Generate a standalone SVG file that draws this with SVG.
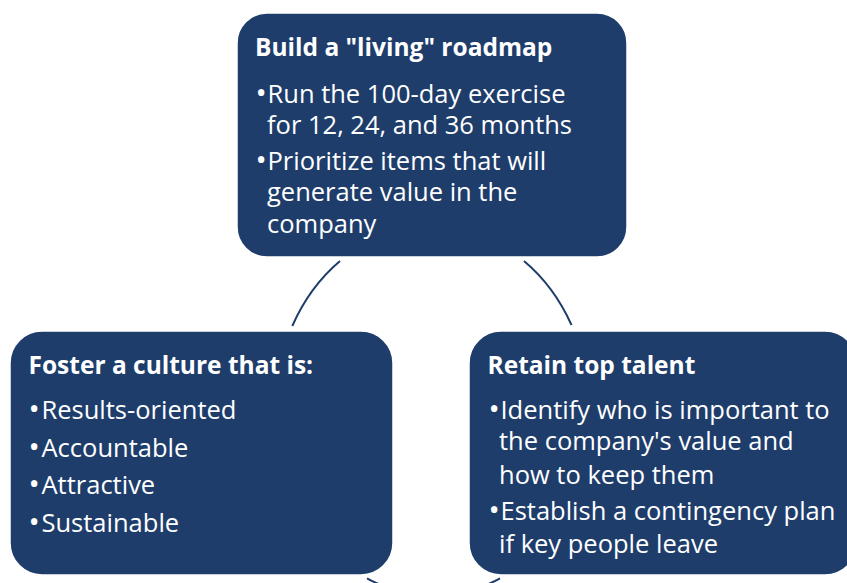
<svg xmlns="http://www.w3.org/2000/svg" width="847" height="583" viewBox="0 0 847 583">
  <style>
    .box { fill: #1e3d6b; stroke: #ffffff; stroke-width: 1.5; }
    .title { font-family: "Open Sans", Lato, sans-serif; font-weight: bold; font-size: 24.5px; fill: #ffffff; }
    .body { font-family: "Open Sans", Lato, sans-serif; font-size: 25.5px; fill: #ffffff; }
    .dot { font-size: 30px; }
    .arc { fill: none; stroke: #1e3d6b; stroke-width: 2; }
  </style>
  <rect x="0" y="0" width="847" height="583" fill="#ffffff"/>

  <!-- cycle arcs on a shared ellipse -->
  <g id="connectors">
    <path class="arc" d="M 340 261 A 157 184 0 0 0 292.3 326"/>
    <path class="arc" d="M 524 261 A 157 184 0 0 1 571.5 325"/>
    <path class="arc" d="M 367 578.3 A 157 184 0 0 0 500 578.3"/>
  </g>

  <g id="roadmap">
    <rect class="box" x="237" y="13" width="390" height="244" rx="30" ry="30"/>
    <text class="title" x="255" y="56">Build a "living" roadmap</text>
    <text class="body" x="255.5" y="102.5"><tspan class="dot">•</tspan><tspan x="267.5">Run the 100-day exercise</tspan></text>
    <text class="body" x="267" y="134">for 12, 24, and 36 months</text>
    <text class="body" x="255.5" y="169.5"><tspan class="dot">•</tspan><tspan x="267.5">Prioritize items that will</tspan></text>
    <text class="body" x="267" y="201">generate value in the</text>
    <text class="body" x="267" y="232.5">company</text>
  </g>

  <g id="culture">
    <rect class="box" x="10" y="331" width="383" height="244" rx="32" ry="32"/>
    <text class="title" x="28.5" y="373.5">Foster a culture that is:</text>
    <text class="body" x="28.5" y="418.5"><tspan class="dot">•</tspan><tspan x="41.5">Results-oriented</tspan></text>
    <text class="body" x="28.5" y="456.5"><tspan class="dot">•</tspan><tspan x="41.5">Accountable</tspan></text>
    <text class="body" x="28.5" y="494"><tspan class="dot">•</tspan><tspan x="41.5">Attractive</tspan></text>
    <text class="body" x="28.5" y="531.5"><tspan class="dot">•</tspan><tspan x="41.5">Sustainable</tspan></text>
  </g>

  <g id="talent">
    <rect class="box" x="469" y="331" width="388" height="244" rx="32" ry="32"/>
    <text class="title" x="487.5" y="373.5">Retain top talent</text>
    <text class="body" x="488.5" y="418.5"><tspan class="dot">•</tspan><tspan x="500.5">Identify who is important to</tspan></text>
    <text class="body" x="499" y="450">the company's value and</text>
    <text class="body" x="499" y="483.5">how to keep them</text>
    <text class="body" x="488.5" y="520"><tspan class="dot">•</tspan><tspan x="500.5">Establish a contingency plan</tspan></text>
    <text class="body" x="499" y="552.5">if key people leave</text>
  </g>
</svg>
